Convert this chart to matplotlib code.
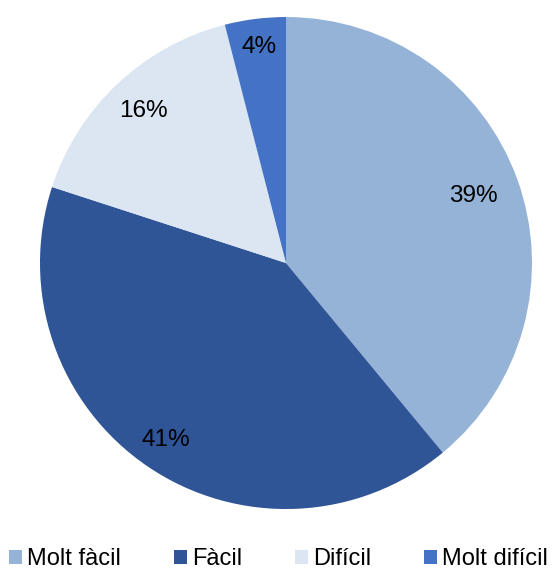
import numpy as np
import matplotlib.pyplot as plt
from matplotlib.patches import Patch

plt.rcParams['font.family'] = ['Liberation Sans', 'DejaVu Sans']

labels = ['Molt fàcil', 'Fàcil', 'Difícil', 'Molt difícil']
values = [39, 41, 16, 4]
colors = ['#95b3d7', '#2f5597', '#dce6f2', '#4472c4']
label_dist = [0.81, 0.87, 0.845, 0.885]

fig = plt.figure(figsize=(5.57, 5.69), dpi=100)
ax = fig.add_axes([0.0718, 0.1054, 0.8833, 0.8647])

wedges, texts = ax.pie(values, colors=colors, startangle=90, counterclock=False, radius=1)

for w, v, d in zip(wedges, values, label_dist):
    mid = np.deg2rad((w.theta1 + w.theta2) / 2)
    ax.text(d * np.cos(mid), d * np.sin(mid), f'{v}%', ha='center', va='center',
            fontsize=17.5, color='black')

ax.set_xlim(-1, 1)
ax.set_ylim(-1, 1)
ax.set_aspect('equal')
ax.axis('off')

handles = [Patch(facecolor=c, label=l) for c, l in zip(colors, labels)]
fig.legend(handles=handles, loc='lower center', ncol=4, frameon=False, fontsize=17,
           handlelength=0.55, handleheight=0.55, handletextpad=0.2, columnspacing=2.26,
           borderaxespad=0, borderpad=0.05, bbox_to_anchor=(0.5, -0.004))

fig.savefig('out.png', dpi=100)
